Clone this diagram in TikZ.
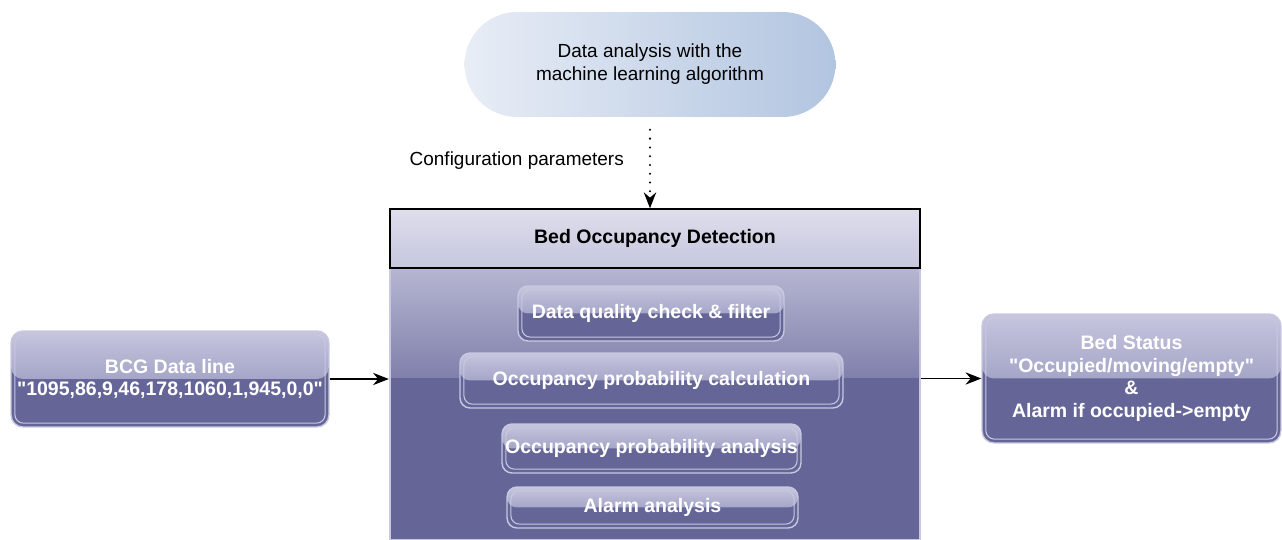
\documentclass[tikz,border=0pt]{standalone}
\usepackage{fontspec}
\setmainfont{Liberation Sans}[Ligatures=TeXOff]
\usetikzlibrary{arrows.meta}

\definecolor{boxtop}{RGB}{198,198,222}
\definecolor{boxmid}{RGB}{132,132,178}
\definecolor{bodytop}{RGB}{182,182,210}
\definecolor{bodymid}{RGB}{128,128,172}
\definecolor{boxdark}{RGB}{101,101,152}
\definecolor{boxline}{RGB}{200,200,225}
\definecolor{headtop}{RGB}{222,222,236}
\definecolor{headbot}{RGB}{198,198,222}
\definecolor{cloudleft}{RGB}{232,237,246}
\definecolor{cloudright}{RGB}{178,197,224}

\tikzset{
  glossy/.style={draw=boxline, line width=0.8pt, fill=boxdark, rounded corners=0.2cm,
    text=white, font=\fontsize{11.1}{13}\selectfont\bfseries, align=center, inner sep=0pt,
    path picture={
      \shade[top color=boxtop, bottom color=boxmid]
        (path picture bounding box.north west) rectangle (path picture bounding box.east);
      \draw[boxline, line width=0.6pt, rounded corners=0.17cm]
        ([shift={(2.2pt,-2.2pt)}]path picture bounding box.north west)
        rectangle ([shift={(-2.2pt,2.2pt)}]path picture bounding box.south east);
    }},
  link/.style={-{Stealth[length=9pt,width=7pt]}, line width=0.8pt}
}

\begin{document}
\begin{tikzpicture}[x=0.02cm, y=-0.02cm, font=\fontsize{10.8}{13}\selectfont]
  \useasboundingbox (0,0) rectangle (1282,540);
  \clip (0,0) rectangle (1282,540);

  \node (cloud) at (650,64.5) [minimum width=7.42cm, minimum height=2.1cm, rounded corners=1.05cm,
    left color=cloudleft, right color=cloudright, align=center]
    {Data analysis with the\\machine learning algorithm};

  \node (body) at (655,404) [minimum width=10.6cm, minimum height=5.44cm, fill=boxdark,
    draw=boxline, line width=1.4pt] {};
  \shade[top color=bodytop, bottom color=bodymid] (391,268) rectangle (919,378);
  \node (head) at (655,238.5) [minimum width=10.6cm, minimum height=1.18cm, draw, line width=0.8pt,
    top color=headtop, bottom color=headbot, font=\fontsize{11.1}{13}\selectfont\bfseries]
    {Bed Occupancy Detection};

  \node (quality) at (651,313.5) [glossy, minimum width=5.32cm, minimum height=1.1cm]
    {Data quality check \& filter};
  \node (calc) at (651.5,380.5) [glossy, minimum width=7.66cm, minimum height=1.1cm]
    {Occupancy probability calculation};
  \node (analysis) at (651.5,448.5) [glossy, minimum width=5.98cm, minimum height=0.98cm]
    {Occupancy probability analysis};
  \node (alarm) at (652.5,507.5) [glossy, minimum width=5.82cm, minimum height=0.82cm]
    {Alarm analysis};

  \node (bcg) at (170,379) [glossy, rounded corners=0.24cm, minimum width=6.36cm, minimum height=1.92cm]
    {BCG Data line\\"1095,86,9,46,178,1060,1,945,0,0"};
  \node (status) at (1131.5,378.5) [glossy, rounded corners=0.24cm, minimum width=5.98cm, minimum height=2.58cm]
    {Bed Status\\"Occupied/moving/empty"\\\&\\Alarm if occupied->empty};

  \node (config) at (630,161) [anchor=east] {Configuration parameters};

  \draw[link] (bcg) -- (bcg -| body.west);
  \draw[link] (body.east |- status) -- (status);
  \draw[-{Stealth[length=9pt,width=7pt]}, line width=1.3pt, line cap=round, dash pattern=on 0pt off 5pt,
    shorten <=2.5mm] (cloud) -- (cloud |- head.north);
\end{tikzpicture}
\end{document}
